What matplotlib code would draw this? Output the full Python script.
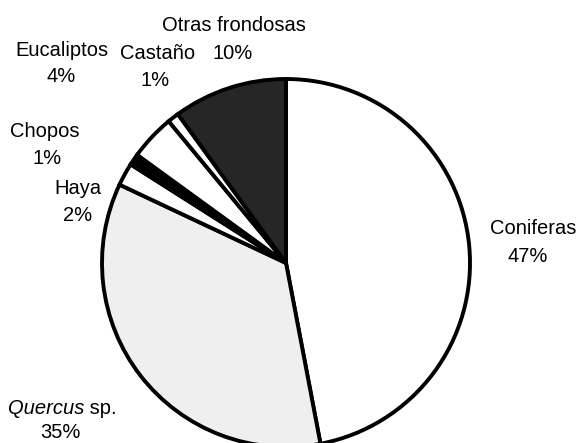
import matplotlib
matplotlib.use('Agg')
import matplotlib.pyplot as plt

# Data (share of forest area, %)
labels = ['Coniferas', 'Quercus sp.', 'Haya', 'Chopos', 'Eucaliptos', 'Castaño', 'Otras frondosas']
values = [47, 35, 2, 1, 4, 1, 10]
fills = ['white', '#efefef', 'white', 'black', 'white', 'white', '#262626']

# label placement, pixel coords of the 578x443 image (name line, pct line)
W = 578; H = 443
label_pos = {
    'Coniferas': ((533, 228), (528, 257)),
    'Haya': ((78, 188), (78, 215)),
    'Chopos': ((45, 131), (47, 158)),
    'Eucaliptos': ((62, 50), (61, 76)),
    'Castaño': ((158, 53), (155, 80)),
    'Otras frondosas': ((234, 25), (233, 53)),
}

plt.rcParams['font.family'] = ['Liberation Sans', 'DejaVu Sans']

fig = plt.figure(figsize=(W/100, H/100), dpi=100)
ax = fig.add_axes([0, 0, 1, 1])

# pie centre / radius in pixels
cx, cy, r = 286, 263, 184
ax.pie(values, colors=fills, startangle=90, counterclock=False,
       center=(cx, H - cy), radius=r,
       wedgeprops=dict(edgecolor='black', linewidth=2.8))
ax.set_xlim(0, W)
ax.set_ylim(0, H)
ax.set_aspect('equal')
ax.axis('off')

fs = 14.5
for name, val in zip(labels, values):
    if name not in label_pos:
        continue
    (nx, ny), (px, py) = label_pos[name]
    ax.text(nx, H - ny, name, ha='center', va='center', fontsize=fs)
    ax.text(px, H - py, '%d%%' % val, ha='center', va='center', fontsize=fs)

# Quercus sp. (genus in italics)
q = values[labels.index('Quercus sp.')]
ax.text(84, H - 408, 'Quercus', ha='right', va='center', fontsize=fs, style='italic')
ax.text(84, H - 408, ' sp.', ha='left', va='center', fontsize=fs)
ax.text(60, H - 432, '%d%%' % q, ha='center', va='center', fontsize=fs)

fig.savefig('out.png', dpi=100)
